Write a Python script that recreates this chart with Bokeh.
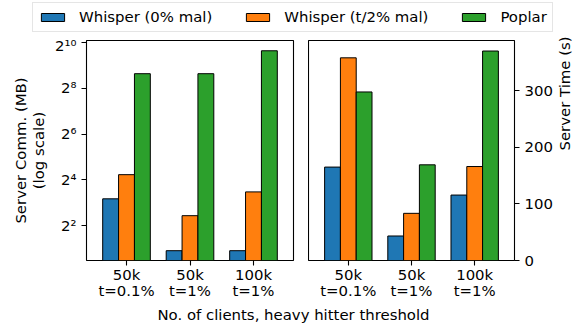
import math
from bokeh.plotting import figure
from bokeh.models import Range1d, FixedTicker, Legend, LegendItem, Label, ColumnDataSource
from bokeh.layouts import column, row
from bokeh.embed import file_html
from bokeh.resources import INLINE

# ---- data ----
groups = ["50k\nt=0.1%", "50k\nt=1%", "100k\nt=1%"]
series = ["Whisper (0% mal)", "Whisper (t/2% mal)", "Poplar"]
colors = ["#1f77b4", "#ff7f0e", "#2ca02c"]
comm_0mal = [9.0, 1.87, 1.87]
comm_half = [18.7, 5.4, 11.1]
comm_poplar = [398.0, 398.0, 797.0]
time_0mal = [165.0, 43.3, 115.6]
time_half = [358.0, 83.3, 166.0]
time_poplar = [297.7, 169.0, 370.0]
comm_ticks = [4, 16, 64, 256, 1024]
comm_tick_labels = ["2²", "2⁴", "2⁶", "2⁸", "2¹⁰"]
time_ticks = [0, 100, 200, 300]

FONT = "DejaVu Sans"
FS = "14.9px"
xs = list(range(len(groups)))
offsets = [-0.25, 0.0, 0.25]
BAR_W = 0.25


def style(p):
    p.grid.visible = False
    p.outline_line_color = "black"
    p.outline_line_width = 1.1
    for ax in p.axis:
        ax.axis_line_color = None
        ax.major_tick_line_color = "black"
        ax.major_tick_line_width = 1.1
        ax.major_tick_out = 5
        ax.major_tick_in = 0
        ax.minor_tick_line_color = None
        ax.major_label_text_font = FONT
        ax.major_label_text_font_size = FS
        ax.major_label_text_color = "black"
        ax.axis_label_text_font = FONT
        ax.axis_label_text_font_size = FS
        ax.axis_label_text_font_style = "normal"
        ax.axis_label_text_color = "black"
        ax.axis_label_text_line_height = 1.0
        ax.major_label_standoff = 5
    p.xaxis.ticker = FixedTicker(ticks=xs, minor_ticks=[])
    p.xaxis.major_label_overrides = {i: g for i, g in zip(xs, groups)}
    p.xaxis.major_label_text_line_height = 0.92
    p.xaxis.major_label_standoff = 0


def bars(p, vals_list, bottom):
    for k, (vals, col) in enumerate(zip(vals_list, colors)):
        src = ColumnDataSource(dict(x=[x + offsets[k] for x in xs], top=vals,
                                    bottom=[bottom] * len(vals)))
        p.vbar(x="x", top="top", bottom="bottom", width=BAR_W, source=src,
               fill_color=col, line_color="black", line_width=1)


# ---- left: communication (log) ----
p1 = figure(frame_width=207, frame_height=220, min_border_left=86, min_border_right=15,
            min_border_top=4, min_border_bottom=44,
            x_range=Range1d(-0.63, 2.63), y_range=Range1d(2 ** 0.475, 2 ** 10.087),
            y_axis_type="log", output_backend="svg", toolbar_location=None)
bars(p1, [comm_0mal, comm_half, comm_poplar], 0.5)
style(p1)
p1.yaxis.ticker = FixedTicker(ticks=comm_ticks, minor_ticks=[])
p1.yaxis.major_label_overrides = {t: l for t, l in zip(comm_ticks, comm_tick_labels)}
p1.yaxis.axis_label = "Server Comm. (MB)\n(log scale)"
p1.yaxis.axis_label_standoff = 4

# ---- right: time (linear) ----
p2 = figure(frame_width=206, frame_height=220, min_border_left=0, min_border_right=66,
            min_border_top=4, min_border_bottom=44,
            x_range=Range1d(-0.63, 2.63), y_range=Range1d(0, 388.6),
            y_axis_location="right", output_backend="svg", toolbar_location=None)
bars(p2, [time_0mal, time_half, time_poplar], 0)
style(p2)
p2.yaxis.ticker = FixedTicker(ticks=time_ticks, minor_ticks=[])
p2.yaxis.axis_label = "Server Time (s)"
p2.yaxis.axis_label_standoff = 9
p2.yaxis.axis_label_orientation = math.pi / 2

# ---- legend strip ----
pl = figure(width=580, height=36, min_border=0, x_axis_location=None, y_axis_location=None,
            x_range=Range1d(0, 1), y_range=Range1d(0, 1),
            output_backend="svg", toolbar_location=None)
pl.grid.visible = False
pl.outline_line_color = None
items = []
for name, col in zip(series, colors):
    # tiny proxy renderer hidden behind the opaque legend box, used only for the swatch
    r = pl.vbar(x=[0.3], top=[0.5], bottom=[0.45], width=0.005, fill_color=col,
                line_color="black", line_width=1)
    items.append(LegendItem(label=name, renderers=[r]))
leg = Legend(items=items, orientation="horizontal", location=(32, 4), margin=0,
             padding=5, spacing=31, glyph_width=29, glyph_height=10, label_standoff=12,
             label_height=17, label_text_font=FONT, label_text_font_size=FS,
             label_text_color="black", border_line_color="#cccccc", border_line_width=1,
             background_fill_alpha=1.0)
pl.add_layout(leg, "center")

# ---- shared x label strip ----
px = figure(width=580, height=22, min_border=0, x_axis_location=None, y_axis_location=None,
            x_range=Range1d(0, 1), y_range=Range1d(0, 1),
            output_backend="svg", toolbar_location=None)
px.grid.visible = False
px.outline_line_color = None
px.add_layout(Label(x=293, y=12, x_units="screen", y_units="screen",
                    text="No. of clients, heavy hitter threshold", text_align="center",
                    text_baseline="middle", text_font=FONT, text_font_size=FS,
                    text_color="black"))

layout = column(pl, row(p1, p2), px)
open("out.html", "w").write(file_html(layout, INLINE))
